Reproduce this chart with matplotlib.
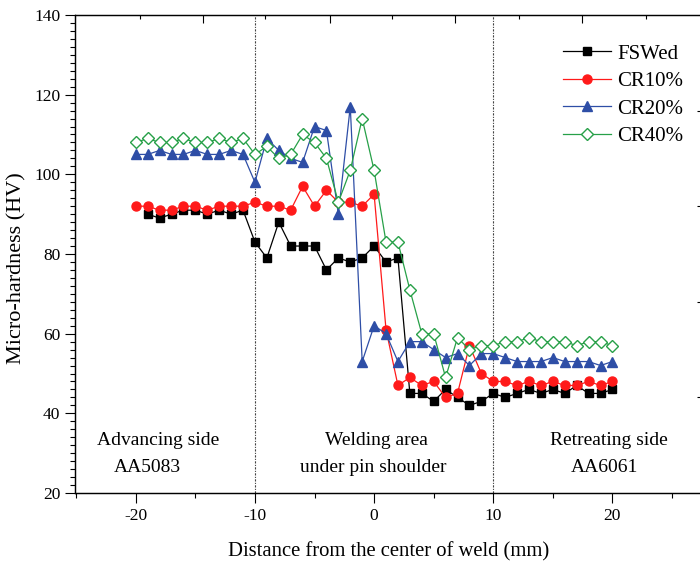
import numpy as np
import matplotlib
matplotlib.use("Agg")
import matplotlib.pyplot as plt
from matplotlib.ticker import MultipleLocator, FixedLocator, NullFormatter

plt.rcParams["font.family"] = ["Liberation Serif", "DejaVu Serif"]
plt.rcParams["axes.unicode_minus"] = False

# ============================================================
# Data
# ============================================================

distance = list(range(-20, 21))

fswed = [np.nan, 90, 89, 90, 91, 91, 90, 91, 90, 91,
         83, 79, 88, 82, 82, 82, 76, 79, 78, 79,
         82, 78, 79, 45, 45, 43, 46, 44, 42, 43,
         45, 44, 45, 46, 45, 46, 45, 47, 45, 45, 46]

cr10 = [92, 92, 91, 91, 92, 92, 91, 92, 92, 92,
        93, 92, 92, 91, 97, 92, 96, 93, 93, 92,
        95, 61, 47, 49, 47, 48, 44, 45, 57, 50,
        48, 48, 47, 48, 47, 48, 47, 47, 48, 47, 48]

cr20 = [105, 105, 106, 105, 105, 106, 105, 105, 106, 105,
        98, 109, 106, 104, 103, 112, 111, 90, 117, 53,
        62, 60, 53, 58, 58, 56, 54, 55, 52, 55,
        55, 54, 53, 53, 53, 54, 53, 53, 53, 52, 53]

cr40 = [108, 109, 108, 108, 109, 108, 108, 109, 108, 109,
        105, 107, 104, 105, 110, 108, 104, 93, 101, 114,
        101, 83, 83, 71, 60, 60, 49, 59, 56, 57,
        57, 58, 58, 59, 58, 58, 58, 57, 58, 58, 57]

series_labels = ["FSWed", "CR10%", "CR20%", "CR40%"]
zone_bounds = [-10, 10]

# ============================================================
# Figure
# ============================================================

W, H = 700, 565
fig = plt.figure(figsize=(W / 100, H / 100), dpi=100)
ax = fig.add_axes([75 / W, (H - 493) / H, (703 - 75) / W, (493 - 15) / H])

ax.plot(distance, fswed, color="black", lw=0.9, marker="s", ms=6, label=series_labels[0])
ax.plot(distance, cr10, color="#ff1a1a", lw=0.9, marker="o", ms=6.5, label=series_labels[1])
ax.plot(distance, cr20, color="#2e4ea6", lw=0.9, marker="^", ms=7, label=series_labels[2])
ax.plot(distance, cr40, color="#27a048", lw=0.9, marker="D", ms=6.5,
        markerfacecolor="white", markeredgewidth=1.0, label=series_labels[3])

for xb in zone_bounds:
    ax.axvline(xb, color="#444444", lw=0.8, linestyle=(0, (2, 1.2, 1, 1.2)), zorder=0)

ax.set_xlim(-25.1, 27.6)
ax.set_ylim(20, 140)

ax.xaxis.set_major_locator(MultipleLocator(10))
ax.xaxis.set_minor_locator(MultipleLocator(5))
ax.yaxis.set_major_locator(MultipleLocator(20))
ax.yaxis.set_minor_locator(MultipleLocator(2))
ax.tick_params(which="major", direction="out", length=7, width=0.8, labelsize=12.5, top=False, right=False)
ax.tick_params(which="minor", direction="out", length=3.5, width=0.8, top=False, right=False)

for s in ax.spines.values():
    s.set_linewidth(0.9)

ax.set_xlabel("Distance from the center of weld (mm)", fontsize=14.9, labelpad=13)
ax.set_ylabel("Micro-hardness (HV)", fontsize=16)
ax.yaxis.set_label_coords(-0.078, 0.47)

# top and right tick marks (offset scales as in the source image)
top = ax.twiny()
top.set_xlim(ax.get_xlim())
top.xaxis.set_major_locator(FixedLocator([-14.37, -3.72, 6.78, 17.44]))
top.xaxis.set_minor_locator(FixedLocator([-19.66, -9.14, 1.54, 12.15, 22.8]))
top.xaxis.set_major_formatter(NullFormatter())
top.tick_params(which="major", direction="in", length=6, width=0.8)
top.tick_params(which="minor", direction="in", length=3, width=0.8)

right = ax.twinx()
right.set_ylim(ax.get_ylim())
right.yaxis.set_major_locator(FixedLocator([44, 68, 92, 116]))
right.yaxis.set_major_formatter(NullFormatter())
right.tick_params(which="major", direction="in", length=4.5, width=0.8)

# zone annotations
ax.text(-18.1, 33.1, "Advancing side", ha="center", va="center", fontsize=14)
ax.text(-19.0, 26.5, "AA5083", ha="center", va="center", fontsize=14)
ax.text(0.17, 33.1, "Welding area", ha="center", va="center", fontsize=14)
ax.text(-0.1, 26.5, "under pin shoulder", ha="center", va="center", fontsize=14)
ax.text(19.7, 33.1, "Retreating side", ha="center", va="center", fontsize=14)
ax.text(19.3, 26.5, "AA6061", ha="center", va="center", fontsize=14)

ax.legend(loc="upper left", bbox_to_anchor=(563 / W, 1 - 44 / H), bbox_transform=fig.transFigure,
          frameon=False, fontsize=15, handlelength=2.3, handletextpad=0.3,
          labelspacing=0.38, borderpad=0, borderaxespad=0)

fig.savefig("out.png", dpi=100)
